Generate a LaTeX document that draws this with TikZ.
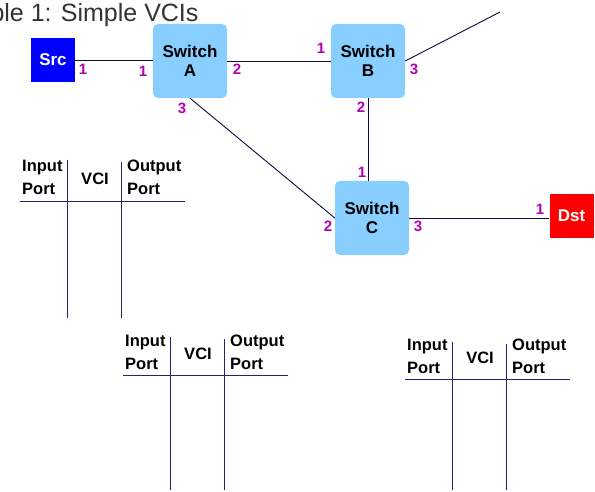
\documentclass[tikz,border=0pt]{standalone}
\usepackage{fontspec}
\setmainfont{Liberation Sans}
\definecolor{swblue}{RGB}{136,206,255}
\definecolor{wire}{RGB}{10,10,60}
\definecolor{tabline}{RGB}{35,35,110}
\definecolor{portc}{RGB}{180,0,180}
\definecolor{titlegray}{RGB}{51,51,51}
\tikzset{
  switch/.style={draw=none, fill=swblue, rounded corners=5pt, minimum width=74pt, minimum height=74pt,
    align=center, inner sep=0pt, font=\fontsize{17}{19}\selectfont\bfseries},
  host/.style={draw=none, minimum width=44pt, minimum height=44pt, inner sep=0pt, text=white,
    font=\fontsize{17}{19}\selectfont\bfseries},
  port/.style={inner sep=0pt, text=portc, font=\fontsize{15}{17}\selectfont\bfseries},
  tabtext/.style={inner sep=0pt, align=left, font=\fontsize{16.5}{23}\selectfont\bfseries},
  link/.style={draw=wire, line width=0.9pt},
  tab/.style={draw=tabline, line width=0.9pt}
}
\begin{document}
\begin{tikzpicture}[x=1pt,y=-1pt]
\useasboundingbox (0,0) rectangle (595,492);
\node[anchor=base east, text=titlegray, font=\fontsize{25}{28}\selectfont] (title) at (202,22) {Table 1: Simple VCIs};

\node[host, fill=blue] (src) at (53,60) {Src};
\node[switch] (swA) at (190,61) {Switch\\A};
\node[switch] (swB) at (368,61) {Switch\\B};
\node[switch] (swC) at (372,218) {Switch\\C};
\node[host, fill=red] (dst) at (571.5,216) {Dst};
\coordinate (far) at (500,12);

\draw[link] (src.east) -- (src.east -| swA.west);
\draw[link] (swA.east) -- (swB.west);
\draw[link] (swB.east) -- (far);
\draw[link] (swB.south) -- (swB.south |- swC.north);
\draw[link] (swA.south) -- (swC.west);
\draw[link] (swC.east) -- (swC.east -| dst.west);

\node[port] (ps1) at (83,69) {1};
\node[port] (pa1) at (143,71) {1};
\node[port] (pa2) at (237,69) {2};
\node[port] (pa3) at (182,108) {3};
\node[port] (pb1) at (321,48) {1};
\node[port] (pb3) at (414,69) {3};
\node[port] (pb2) at (361,107) {2};
\node[port] (pc1) at (362,172) {1};
\node[port] (pc2) at (328,226) {2};
\node[port] (pc3) at (418,226) {3};
\node[port] (pd1) at (540,209) {1};

\foreach \x/\y/\t/\b/\i in {20/201/160/318/1, 123/375/337/490/2, 405/379/342/490/3} {
  \draw[tab] (\x,\y) -- ++(165,0);
  \draw[tab] (\x+47,\t) -- (\x+47,\b);
  \draw[tab] (\x+101,\t+2) -- (\x+101,\b);
  \node[tabtext, anchor=base west] (in\i) at (\x+2,\y-6) {Input\\Port};
  \node[tabtext, anchor=base] (vci\i) at (\x+75,\y-16) {VCI};
  \node[tabtext, anchor=base west] (out\i) at (\x+107,\y-6) {Output\\Port};
}
\end{tikzpicture}
\end{document}
